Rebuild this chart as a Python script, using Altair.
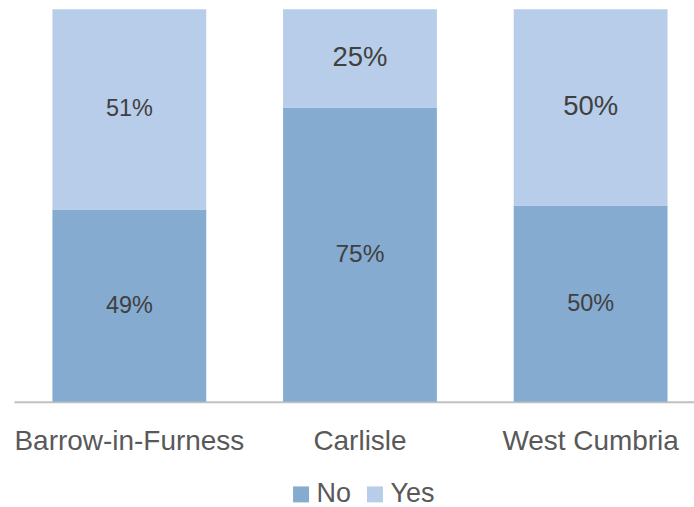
import altair as alt
import pandas as pd

categories = ["Barrow-in-Furness", "Carlisle", "West Cumbria"]
series = ["No", "Yes"]
no_values = [0.49, 0.75, 0.50]
yes_values = [0.51, 0.25, 0.50]

rows = []
for i, c in enumerate(categories):
    rows.append({"cat": c, "series": "No", "value": no_values[i], "ord": 0})
    rows.append({"cat": c, "series": "Yes", "value": yes_values[i], "ord": 1})
df = pd.DataFrame(rows)

FONT = "Liberation Sans"
TXT = "#404040"

base = alt.Chart(df).transform_stack(
    stack="value", as_=["y0", "y1"], groupby=["cat"], sort=[{"field": "ord"}]
).transform_calculate(
    mid="(datum.y0 + datum.y1) / 2",
    lbl="format(datum.value, '.0%')",
    fs="datum.series == 'Yes' && datum.cat != 'Barrow-in-Furness' ? 27.5 : (datum.cat == 'Carlisle' ? 24.5 : 23.5)",
)

xscale = alt.Scale(paddingInner=0.333, paddingOuter=0.1667)

x = alt.X(
    "cat:N",
    sort=categories,
    title=None,
    scale=xscale,
    axis=alt.Axis(
        labelAngle=0,
        labelFont=FONT,
        labelFontSize=28,
        labelColor="#595959",
        labelPadding=26,
        labelLimit=0,
        ticks=False,
        domainColor="#c0c0c0",
        domainWidth=2,
        grid=False,
    ),
)

bars = base.mark_bar().encode(
    x=x,
    y=alt.Y("y0:Q", scale=alt.Scale(domain=[0, 1]), axis=None),
    y2="y1:Q",
    color=alt.Color(
        "series:N",
        scale=alt.Scale(domain=series, range=["#85abd0", "#b7cde9"]),
        legend=alt.Legend(
            title=None,
            orient="none",
            legendX=274,
            legendY=472,
            direction="horizontal",
            symbolType="square",
            symbolSize=256,
            symbolStrokeWidth=0,
            labelFont=FONT,
            labelFontSize=27,
            labelColor="#595959",
            labelOffset=2,
            columnPadding=10,
            padding=0,
        ),
    ),
)

labels = base.mark_text(font=FONT, color=TXT).encode(
    x=alt.X("cat:N", sort=categories, scale=xscale),
    y=alt.Y("mid:Q", scale=alt.Scale(domain=[0, 1])),
    text="lbl:N",
    size=alt.Size("fs:Q", scale=None, legend=None),
)

chart = alt.layer(bars, labels).properties(
    width=693,
    height=393,
    padding={"left": 13, "top": 9, "right": -12, "bottom": 0},
).configure_view(stroke=None)

chart.save("out.html", embed_options={"renderer": "svg", "actions": False})
